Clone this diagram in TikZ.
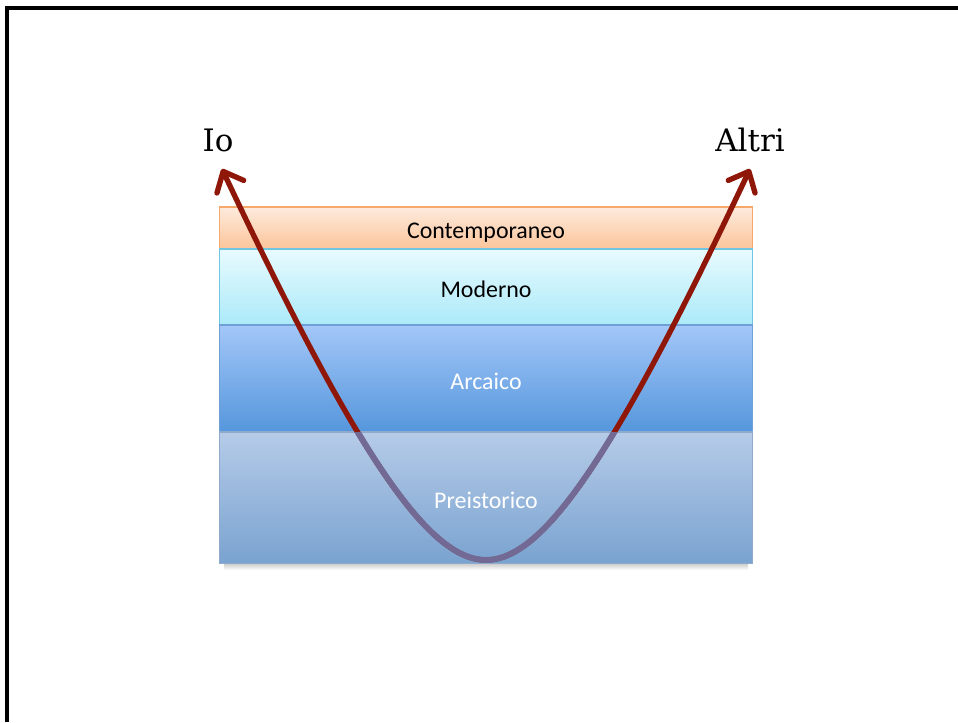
\documentclass[tikz,border=0pt]{standalone}
\usepackage{fontspec}
\setmainfont{Carlito}
\newfontfamily\slabfont{DejaVu Serif}
\usetikzlibrary{positioning,arrows.meta}

\definecolor{curvered}{HTML}{8F1709}
\definecolor{curvedim}{HTML}{726A94}
\definecolor{contTop}{HTML}{FDEBDD}
\definecolor{contBot}{HTML}{FBC49A}
\definecolor{contLine}{HTML}{F5A86A}
\definecolor{modTop}{HTML}{E8FAFE}
\definecolor{modBot}{HTML}{ABEAF9}
\definecolor{modLine}{HTML}{70C6E0}
\definecolor{arcTop}{HTML}{A3C7F8}
\definecolor{arcBot}{HTML}{5596DC}
\definecolor{arcLine}{HTML}{6E9FD6}
\definecolor{preTop}{HTML}{B5CBE8}
\definecolor{preBot}{HTML}{7AA3D0}
\definecolor{preLine}{HTML}{8FAACB}

\tikzset{
  layer/.style={draw, line width=0.8pt, inner sep=0pt, outer sep=0pt,
    minimum width=13.3cm, text height=18pt, text depth=3pt,
    font=\fontsize{17}{20}\selectfont},
  lbl/.style={font=\slabfont\fontsize{22}{26}\selectfont, inner sep=0pt, anchor=base},
  curve/.style={line width=3.8pt, line cap=round},
  barb/.tip={Straight Barb[length=12pt,width=21pt,line cap=round,line join=round]},
}

\begin{document}
\begin{tikzpicture}[x=0.025cm, y=-0.025cm]
  \useasboundingbox (0,0) rectangle (958,722);
  % cornice
  \draw[line width=2.2pt] (7,722) -- (7,8) -- (958,8);
  % strati
  \node[layer, minimum height=1.05cm, draw=contLine, top color=contTop, bottom color=contBot] (cont) at (486,228) {Contemporaneo};
  \node[layer, minimum height=1.9cm, below=0pt of cont, draw=modLine, top color=modTop, bottom color=modBot] (mod) {Moderno};
  \node[layer, minimum height=2.675cm, below=0pt of mod, draw=arcLine, top color=arcTop, bottom color=arcBot, text=white] (arc) {Arcaico};
  \shade[top color=black!22, bottom color=white] (224,563) rectangle (748,570);
  \node[layer, minimum height=3.275cm, below=0pt of arc, draw=preLine, top color=preTop, bottom color=preBot, text=white] (pre) {Preistorico};
  % etichette
  \node[lbl] (io) at (218,152) {Io};
  \node[lbl] (altri) at (750,152) {Altri};
  \coordinate (ioTip) at (222,169);
  \coordinate (altriTip) at (750,169);
  \coordinate (bot) at (486,560);
  % curva
  \draw[curve, curvered, barb-barb]
    (ioTip) .. controls (360,462) and (430,560) .. (bot) .. controls (542,560) and (612,462) .. (altriTip);
  \begin{scope}
    \clip (pre.north west) rectangle (pre.south east);
    \draw[curve, curvedim, line width=4.2pt] (ioTip) .. controls (360,462) and (430,560) .. (bot) .. controls (542,560) and (612,462) .. (altriTip);
  \end{scope}
\end{tikzpicture}
\end{document}
